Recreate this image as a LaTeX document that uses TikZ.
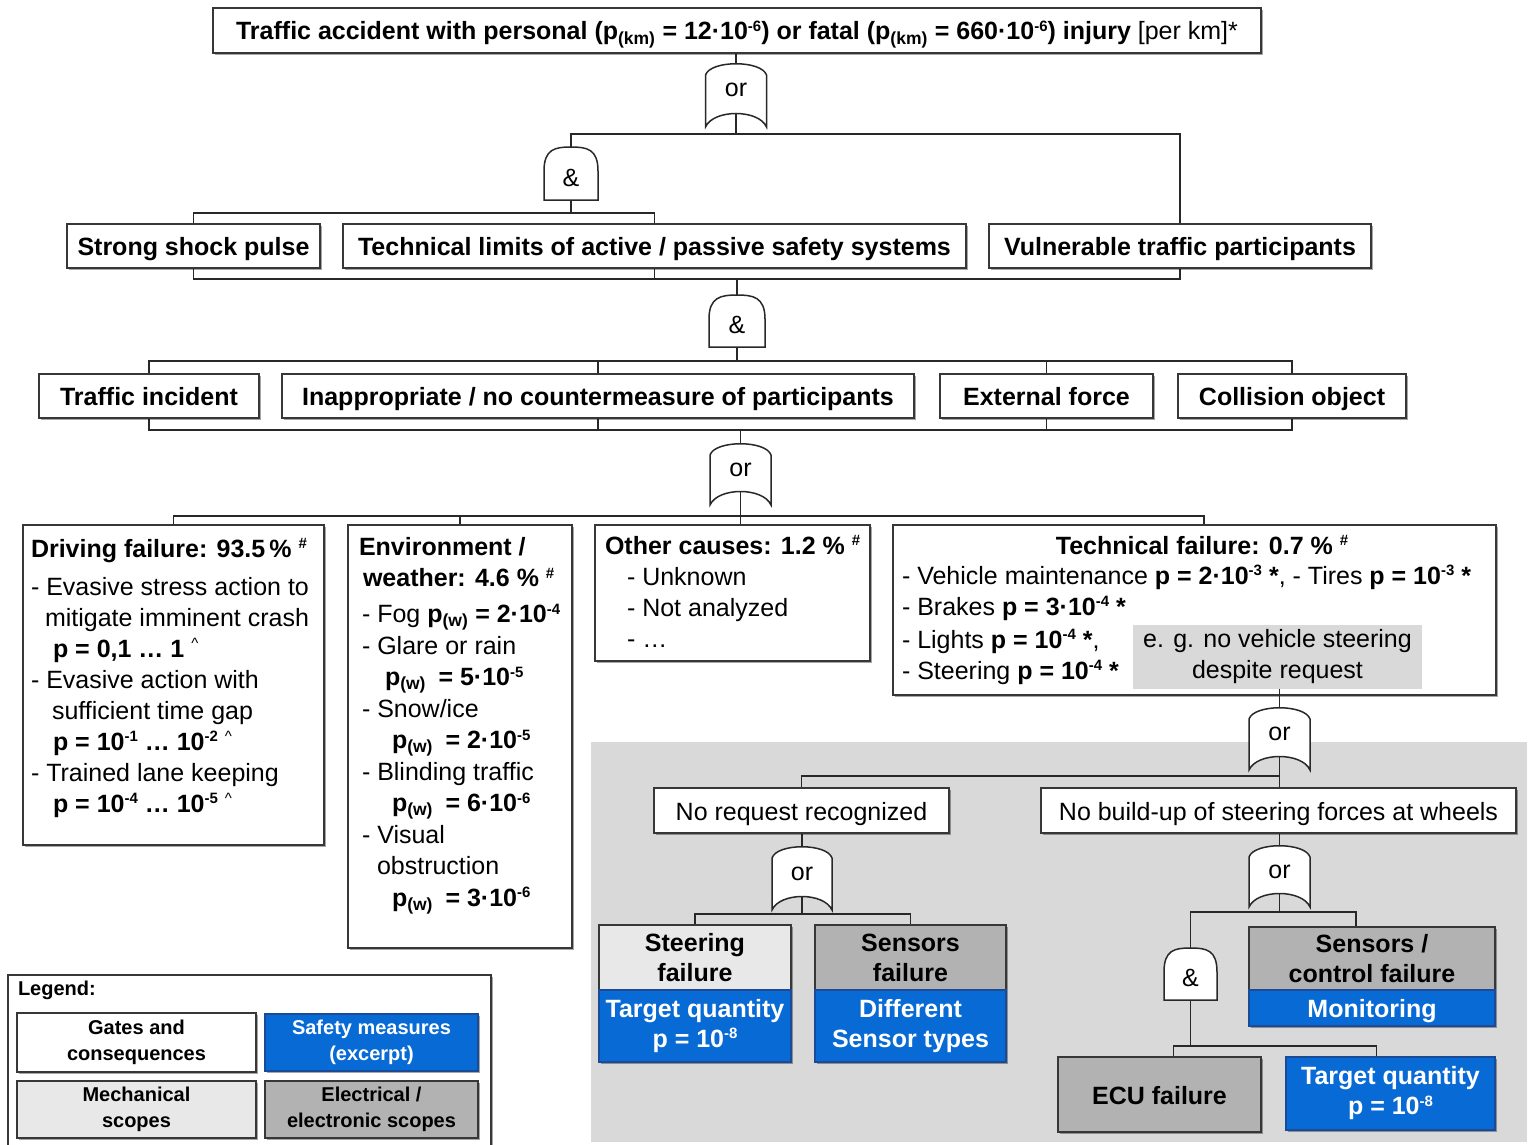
\documentclass[tikz,border=0pt]{standalone}
\usepackage{fontspec}
\setmainfont{Liberation Sans}
\usetikzlibrary{calc,shadows}
\pgfdeclarelayer{back}
\pgfdeclarelayer{lines}
\pgfsetlayers{back,lines,main}

\definecolor{edge}{RGB}{55,55,55}
\definecolor{wire}{RGB}{40,40,40}
\definecolor{mechgray}{RGB}{232,232,232}
\definecolor{elecgray}{RGB}{178,178,178}
\definecolor{zone}{RGB}{217,217,217}
\definecolor{safeblue}{RGB}{8,106,212}
\definecolor{safeedge}{RGB}{25,75,150}

\newcommand\txtL{\fontsize{25}{31}\selectfont}
\newcommand\txtE{\fontsize{25}{31.5}\selectfont}
\newcommand\txtS{\fontsize{20}{26}\selectfont}
% compact raised index
\newcommand\upidx[1]{\raisebox{0.34em}{\fontsize{15}{15}\selectfont #1}}

% or gate: convex top, concave bottom
\newcommand\orshape[1]{%
  \draw[gateline] ($(#1.north west)+(0,12)$)
    .. controls ($(#1.north west)+(5,-3)$) and ($(#1.north east)+(-5,-3)$) .. ($(#1.north east)+(0,12)$)
    -- (#1.south east)
    .. controls ($(#1.south east)+(-8,-18)$) and ($(#1.south west)+(8,-18)$) .. (#1.south west)
    -- cycle;}
% and gate: flat bottom, rounded top
\newcommand\andshape[1]{%
  \draw[gateline] (#1.south west) -- ($(#1.north west)+(0,24)$)
    .. controls ($(#1.north west)+(0,2)$) and ($(#1.north)+(-16,0)$) .. (#1.north)
    .. controls ($(#1.north)+(16,0)$) and ($(#1.north east)+(0,2)$) .. ($(#1.north east)+(0,24)$)
    -- (#1.south east) -- cycle;}

\tikzset{
  every node/.style={inner sep=0pt, outer sep=0pt},
  conn/.style={draw=wire, line width=1.5pt},
  gateline/.style={draw=wire, line width=1.5pt, fill=white},
  box/.style={draw=edge, line width=2pt, fill=white,
    drop shadow={shadow xshift=2pt, shadow yshift=-2pt, fill=black, opacity=0.35}},
  mech/.style={box, fill=mechgray},
  elec/.style={box, fill=elecgray},
  safe/.style={box, fill=safeblue, draw=safeedge, text=white},
  one/.style={text height=21pt, text depth=2pt, font=\txtL\bfseries},
  two/.style={align=center, font=\fontsize{25}{30}\selectfont\bfseries},
  orgate/.style={font=\txtL, text height=13pt, text depth=9pt},
  andgate/.style={font=\txtL, text height=25pt, text depth=0pt},
  legtxt/.style={align=center, font=\txtS\bfseries},
}

\begin{document}
\begin{tikzpicture}[x=1pt, y=-1pt]
\useasboundingbox (0,0) rectangle (1529,1145);
\clip (0,0) rectangle (1529,1145);

\begin{pgfonlayer}{back}
  \fill[white] (0,0) rectangle (1529,1145);
  \fill[zone] (591,742) rectangle (1527,1142);
\end{pgfonlayer}

% bus levels
\coordinate (yA) at (0,134);
\coordinate (yB) at (0,213);
\coordinate (yC) at (0,279);
\coordinate (yD) at (0,361);
\coordinate (yE) at (0,430);
\coordinate (yF) at (0,516);
\coordinate (yG) at (0,776);
\coordinate (yH) at (0,914);
\coordinate (yI) at (0,912);
\coordinate (yJ) at (0,1046);

% top event
\node[box, one, minimum width=1048, minimum height=45] (top) at (737,30.5)
  {Traffic accident with personal (p\textsubscript{(km)} = 12·10\upidx{-6}) or fatal (p\textsubscript{(km)} = 660·10\upidx{-6}) injury {\mdseries [per km]*}};

% gates
\node[orgate, minimum width=61, minimum height=64] (gA) at (736,95) {or};
\node[andgate, minimum width=54, minimum height=53] (gB) at (571,173.5) {\&};
\node[andgate, minimum width=56, minimum height=52] (gC) at (737,321) {\&};
\node[orgate, minimum width=61, minimum height=62] (gD) at (740.5,474) {or};
\node[orgate, minimum width=61, minimum height=63] (gE) at (1279.5,738.5) {or};
\node[orgate, minimum width=60, minimum height=64] (gF) at (802,878) {or};
\node[orgate, minimum width=61, minimum height=62] (gG) at (1279.5,876) {or};
\node[andgate, minimum width=53, minimum height=52] (gH) at (1190.5,974) {\&};

% first row
\node[box, one, minimum width=253, minimum height=44] (ssp) at (193.5,246) {Strong shock pulse};
\node[box, one, minimum width=623, minimum height=44] (tech) at (654.5,246) {Technical limits of active / passive safety systems};
\node[box, one, minimum width=382, minimum height=44] (vul) at (1180,246) {Vulnerable traffic participants};

% second row
\node[box, one, minimum width=220, minimum height=44] (ti) at (149,396) {Traffic incident};
\node[box, one, minimum width=632, minimum height=44] (inap) at (598,396) {Inappropriate / no countermeasure of participants};
\node[box, one, minimum width=213, minimum height=44] (ext) at (1046.5,396) {External force};
\node[box, one, minimum width=228, minimum height=44] (col) at (1292,396) {Collision object};

% cause boxes
\node[box, minimum width=301, minimum height=320] (drv) at (173.5,685) {};
\node[anchor=north west, align=left, font=\txtL] (drvtxt) at (31,535)
  {\rule{0pt}{22pt}\textbf{Driving failure: 93.5\,\% \upidx{\#}}\\[7pt]
   - Evasive stress action to\\
   \hspace*{14pt}mitigate imminent crash\\
   \hspace*{22pt}\textbf{p = 0,1 … 1} \upidx{\textasciicircum}\\
   - Evasive action with\\
   \hspace*{21pt}sufficient time gap\\
   \hspace*{22pt}\textbf{p = 10\upidx{-1} … 10\upidx{-2}} \upidx{\textasciicircum}\\
   - Trained lane keeping\\
   \hspace*{22pt}\textbf{p = 10\upidx{-4} … 10\upidx{-5}} \upidx{\textasciicircum}};

\node[box, minimum width=224, minimum height=423] (env) at (460,736.5) {};
\node[anchor=north west, align=left, font=\txtE] (envtxt) at (359,533)
  {\rule{0pt}{22pt}\textbf{Environment /}\\
   \hspace*{4pt}\textbf{weather: 4.6 \% \upidx{\#}}\\[4.5pt]
   \hspace*{3pt}- Fog \textbf{p\textsubscript{(w)} = 2·10\upidx{-4}}\\
   \hspace*{3pt}- Glare or rain\\
   \hspace*{26pt}\textbf{p\textsubscript{(w)}\enspace = 5·10\upidx{-5}}\\
   \hspace*{3pt}- Snow/ice\\
   \hspace*{33pt}\textbf{p\textsubscript{(w)}\enspace = 2·10\upidx{-5}}\\
   \hspace*{3pt}- Blinding traffic\\
   \hspace*{33pt}\textbf{p\textsubscript{(w)}\enspace = 6·10\upidx{-6}}\\
   \hspace*{3pt}- Visual\\
   \hspace*{18pt}obstruction\\
   \hspace*{33pt}\textbf{p\textsubscript{(w)}\enspace = 3·10\upidx{-6}}};

\node[box, minimum width=275, minimum height=136] (oth) at (732.5,593) {};
\node[anchor=north west, align=left, font=\txtL] (othtxt) at (605,532)
  {\rule{0pt}{22pt}\textbf{Other causes: 1.2 \% \upidx{\#}}\\
   \hspace*{22pt}- Unknown\\
   \hspace*{22pt}- Not analyzed\\
   \hspace*{22pt}- …};

\node[box, minimum width=603, minimum height=170] (tf) at (1194.5,610) {};
\node[anchor=base, font=\txtL\bfseries] (tftitle) at (1202,554)
  {Technical failure: 0.7 \% \upidx{\#}};
\node[anchor=north west, align=left, font=\txtL] (tftxt) at (902,562)
  {\rule{0pt}{22pt}- Vehicle maintenance \textbf{p = 2·10\upidx{-3} *}, - Tires \textbf{p = 10\upidx{-3} *}\\
   - Brakes \textbf{p = 3·10\upidx{-4} *}\\[2pt]
   - Lights \textbf{p = 10\upidx{-4} *},\\
   - Steering \textbf{p = 10\upidx{-4} *}};
\node[fill=zone, minimum width=289, minimum height=64, align=center, font=\txtL] (eg) at (1277.5,656.5)
  {e. g. no vehicle steering\\despite request};

% steering sub-tree
\node[box, minimum width=295, minimum height=45, font=\txtL, text height=21pt, text depth=2pt] (nrr) at (801.5,810.5) {No request recognized};
\node[box, minimum width=475, minimum height=45, font=\txtL, text height=21pt, text depth=2pt] (nbu) at (1278.5,810.5) {No build-up of steering forces at wheels};

\node[mech, two, minimum width=192, minimum height=65] (stf) at (695,957.5) {Steering\\failure};
\node[safe, two, minimum width=192, minimum height=72] (tq1) at (695,1026) {Target quantity\\p = 10\upidx{-8}};
\node[elec, two, minimum width=191, minimum height=65] (snf) at (910.5,957.5) {Sensors\\failure};
\node[safe, two, minimum width=191, minimum height=72] (dst) at (910.5,1026) {Different\\Sensor types};
\node[elec, two, minimum width=246, minimum height=63] (scf) at (1372,958.5) {Sensors /\\control failure};
\node[safe, one, minimum width=246, minimum height=36] (mon) at (1372,1008) {Monitoring};
\node[elec, one, minimum width=203, minimum height=75] (ecu) at (1159.5,1094.5) {ECU failure};
\node[safe, two, minimum width=209, minimum height=73] (tq2) at (1390.5,1093.5) {Target quantity\\p = 10\upidx{-8}};

% legend
\node[box, anchor=north west, minimum width=483, minimum height=200] (leg) at (8,975) {};
\node[anchor=base west, font=\txtS\bfseries] (legtitle) at (18,995) {Legend:};
\node[box, legtxt, minimum width=239, minimum height=59] (lg1) at (136.5,1042.5) {Gates and\\consequences};
\node[safe, legtxt, minimum width=213, minimum height=57] (lg2) at (371.5,1042.5) {Safety measures\\(excerpt)};
\node[mech, legtxt, minimum width=239, minimum height=57] (lg3) at (136.5,1109.5) {Mechanical\\scopes};
\node[elec, legtxt, minimum width=213, minimum height=57] (lg4) at (371.5,1109.5) {Electrical /\\electronic scopes};

% connectors and gate bodies
\begin{pgfonlayer}{lines}
  \draw[conn] (top.south -| gA) -- (gA.north);
  \draw[conn] (gA.center) -- (gA.center |- yA) -| (gB.north);
  \draw[conn] (gA.center |- yA) -| (vul.north);
  \draw[conn] (gB.center) -- (gB.center |- yB) -| (ssp.north);
  \draw[conn] (gB.center |- yB) -| (tech.north);
  \draw[conn] (ssp.south) -- (ssp.south |- yC) -| (vul.south);
  \draw[conn] (tech.south) -- (tech.south |- yC);
  \draw[conn] (gC.north) -- (gC.north |- yC);
  \draw[conn] (gC.center) -- (gC.center |- yD) -| (ti.north);
  \draw[conn] (gC.center |- yD) -| (col.north);
  \draw[conn] (inap.north) -- (inap.north |- yD);
  \draw[conn] (ext.north) -- (ext.north |- yD);
  \draw[conn] (ti.south) -- (ti.south |- yE) -| (col.south);
  \draw[conn] (inap.south) -- (inap.south |- yE);
  \draw[conn] (ext.south) -- (ext.south |- yE);
  \draw[conn] (gD.north) -- (gD.north |- yE);
  \draw[conn] (gD.center) -- (oth.north -| gD);
  \draw[conn] (gD.center |- yF) -| (drv.north);
  \draw[conn] (gD.center |- yF) -| (env.north);
  \draw[conn] (gD.center |- yF) -| ([xshift=9.5pt]tf.north);
  \draw[conn] (gE.center) -- (gE.center |- yG) -| (nrr.north);
  \draw[conn] (gE.center |- yG) -- (nbu.north -| gE);
  \draw[conn] (nrr.south -| gF) -- (gF.north);
  \draw[conn] (gF.center) -- (gF.center |- yH) -| (stf.north);
  \draw[conn] (gF.center |- yH) -| (snf.north);
  \draw[conn] (nbu.south -| gG) -- (gG.north);
  \draw[conn] (gG.center) -- (gG.center |- yI) -| (gH.north);
  \draw[conn] (gG.center |- yI) -| ([xshift=-16pt]scf.north);
  \draw[conn] (gH.center) -- (gH.center |- yJ) -| ([xshift=14pt]ecu.north);
  \draw[conn] (gH.center |- yJ) -| ([xshift=-14pt]tq2.north);
  \orshape{gA}
  \andshape{gB}
  \andshape{gC}
  \orshape{gD}
  \orshape{gE}
  \orshape{gF}
  \orshape{gG}
  \andshape{gH}
\end{pgfonlayer}

% link from the steering example down to its gate
\draw[conn] (eg.south -| gE) -- (gE.north);

\end{tikzpicture}
\end{document}
